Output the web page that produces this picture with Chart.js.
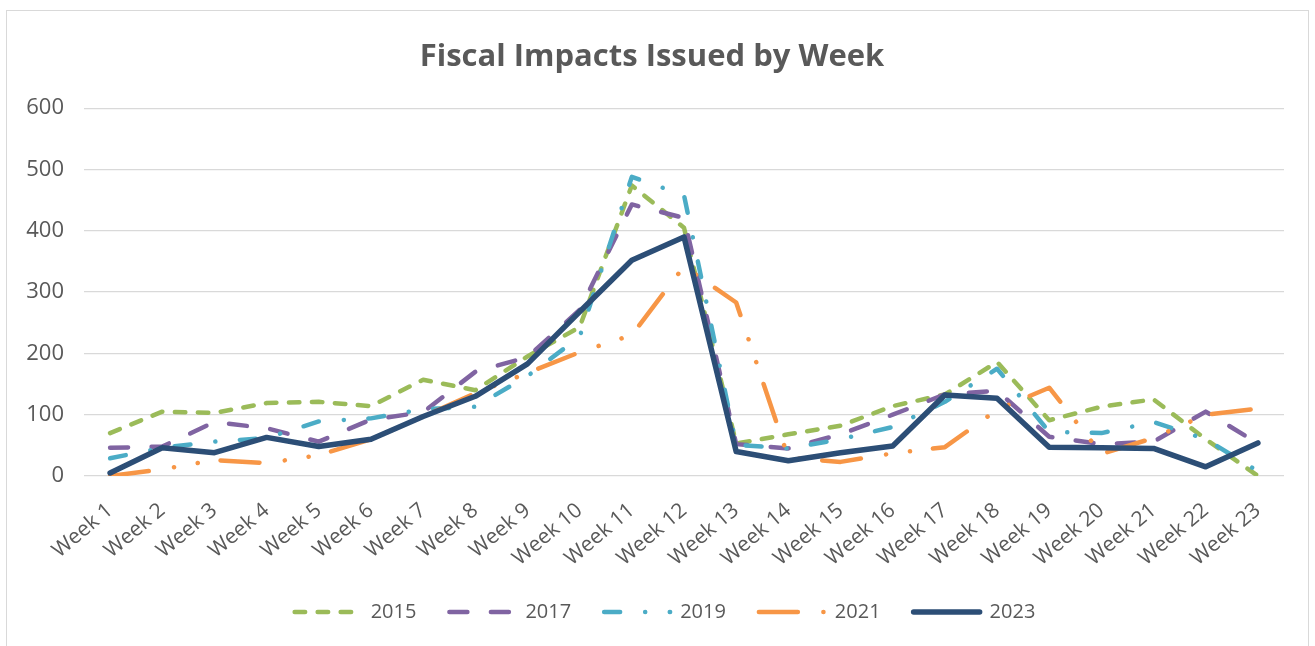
<!DOCTYPE html>
<html lang="en">
<head>
<meta charset="UTF-8">
<title>Fiscal Impacts Issued by Week</title>
<script src="https://cdn.jsdelivr.net/npm/chart.js@4"></script>
<style>
  * { margin: 0; padding: 0; box-sizing: border-box; }
  body { background: #fff; width: 1315px; height: 646px; overflow: hidden; position: relative; }
  .frame { position: absolute; left: 6px; top: 10px; width: 1303px; height: 660px; border: 1px solid #d9d9d9; }
  canvas { position: absolute; left: 0; top: 0; }
</style>
</head>
<body>
<div class="frame"></div>
<canvas id="chart" width="1315" height="646"></canvas>
<script>
// data
const weeks = ['Week 1', 'Week 2', 'Week 3', 'Week 4', 'Week 5', 'Week 6', 'Week 7', 'Week 8',
  'Week 9', 'Week 10', 'Week 11', 'Week 12', 'Week 13', 'Week 14', 'Week 15', 'Week 16',
  'Week 17', 'Week 18', 'Week 19', 'Week 20', 'Week 21', 'Week 22', 'Week 23'];
const years = ['2015', '2017', '2019', '2021', '2023'];
const y2015 = [70, 105, 103, 119, 121, 114, 157, 140, 195, 243, 474, 405, 53, 68, 82, 114, 133, 186, 91, 113, 125, 60, 0];
const y2017 = [46, 48, 88, 78, 56, 92, 104, 170, 194, 271, 443, 421, 52, 45, 68, 100, 133, 139, 64, 52, 56, 105, 53];
const y2019 = [29, 46, 56, 62, 89, 94, 109, 113, 163, 227, 488, 458, 51, 45, 60, 80, 121, 175, 72, 70, 88, 60, 8];
const y2021 = [0, 11, 26, 21, 34, 60, 97, 135, 168, 202, 230, 342, 283, 30, 23, 37, 47, 108, 144, 36, 62, 100, 110];
const y2023 = [5, 46, 38, 63, 48, 60, 97, 130, 183, 268, 352, 390, 40, 25, 38, 49, 132, 127, 47, 46, 45, 15, 54];
const yTicks = [0, 100, 200, 300, 400, 500, 600];

const series = [y2015, y2017, y2019, y2021, y2023];
const colors = ['#9bbb59', '#8064a2', '#4bacc6', '#f79646', '#2c4e76'];
const dashes = [[10.5, 12.5], [18, 23.5], [16, 25, 0.1, 24.5], [39, 25.5, 0.1, 24, 0.1, 23], []];
const widths = [4.5, 4.5, 4.5, 4.5, 5.5];
const TEXT = '#595959';
const FONT = "'Open Sans', sans-serif";

const datasets = series.map((data, i) => ({
  label: years[i],
  data: data,
  borderColor: colors[i],
  backgroundColor: colors[i],
  borderWidth: widths[i],
  borderDash: dashes[i],
  borderCapStyle: 'round',
  borderJoinStyle: 'round',
  pointRadius: 0,
  tension: 0,
  fill: false,
  order: series.length - 1 - i   // 2023 drawn on top
}));

// the legend sits a little right of the title in the original
const nudgeLegend = {
  id: 'nudgeLegend',
  afterLayout(chart) {
    chart.legend.left += 13;
    chart.legend.right += 13;
  }
};

new Chart(document.getElementById('chart'), {
  type: 'line',
  data: { labels: weeks, datasets: datasets },
  plugins: [nudgeLegend],
  options: {
    responsive: false,
    animation: false,
    devicePixelRatio: 1,
    layout: { padding: { left: 20, right: 31, top: 0, bottom: 14 } },
    plugins: {
      tooltip: { enabled: false },
      title: {
        display: true,
        text: 'Fiscal Impacts Issued by Week',
        color: TEXT,
        font: { family: FONT, size: 31, weight: 'bold' },
        padding: { top: 39, bottom: 32 }
      },
      legend: {
        position: 'bottom',
        labels: {
          color: TEXT,
          font: { family: FONT, size: 20 },
          usePointStyle: true,
          pointStyleWidth: 66,
          padding: 33,
          generateLabels: () => years.map((y, i) => ({
            text: y,
            fillStyle: colors[i],
            strokeStyle: colors[i],
            lineWidth: widths[i],
            lineDash: dashes[i],
            lineCap: 'round',
            pointStyle: 'line',
            rotation: 180,
            fontColor: TEXT,
            hidden: false,
            datasetIndex: i
          }))
        }
      }
    },
    scales: {
      x: {
        offset: true,
        grid: { display: false },
        border: { display: false },
        afterFit: (s) => { s.height = 93; },
        ticks: {
          color: TEXT,
          font: { family: FONT, size: 21 },
          minRotation: 40,
          maxRotation: 40,
          padding: 14,
          autoSkip: false
        }
      },
      y: {
        min: 0,
        max: 600,
        afterFit: (s) => { s.width = 64; },
        afterBuildTicks: (s) => { s.ticks = yTicks.map(v => ({ value: v })); },
        grid: { color: '#d9d9d9', lineWidth: 1.3, drawTicks: false },
        border: { display: false },
        ticks: {
          color: TEXT,
          font: { family: FONT, size: 22 },
          padding: 20
        }
      }
    }
  }
});
</script>
</body>
</html>
